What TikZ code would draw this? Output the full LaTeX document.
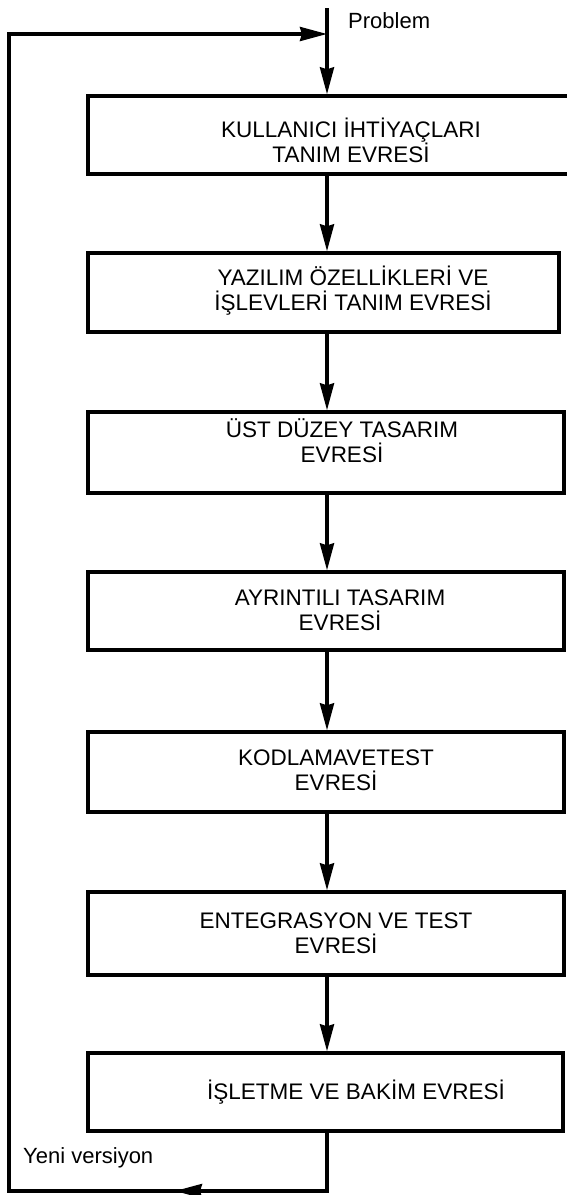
\documentclass[tikz,border=0pt]{standalone}
\usepackage{fontspec}
\setmainfont{Liberation Sans}
\usetikzlibrary{arrows.meta}
\begin{document}
\begin{tikzpicture}[x=1pt,y=-1pt,
  stage/.style={draw, line width=3.4pt, rectangle, inner sep=0pt},
  lbl/.style={font=\fontsize{22.5}{25}\selectfont, align=center, inner sep=0pt},
  side/.style={font=\fontsize{22}{25}\selectfont, inner sep=0pt, anchor=west},
  flow/.style={line width=3.4pt, line join=miter, -{Stealth[length=27pt,width=14pt,inset=2pt]}},
]
\useasboundingbox (0,0) rectangle (567,1195);
\coordinate (m) at (327,0);
\coordinate (ts) at (327,8);
\coordinate (tl) at (9,34);
\coordinate (jt) at (327,34);
\coordinate (bl) at (9,1191);
\coordinate (br) at (327,1191);
\coordinate (am) at (175,1191);

\node[stage, minimum width=482pt, minimum height=78pt] (b1) at (329,135) {};
\node[stage, minimum width=471pt, minimum height=79pt] (b2) at (323.5,292.5) {};
\node[stage, minimum width=476pt, minimum height=81pt] (b3) at (326,452.5) {};
\node[stage, minimum width=476pt, minimum height=78pt] (b4) at (326,611) {};
\node[stage, minimum width=476pt, minimum height=80pt] (b5) at (326,772) {};
\node[stage, minimum width=476pt, minimum height=83pt] (b6) at (326,933.5) {};
\node[stage, minimum width=475pt, minimum height=78pt] (b7) at (325.5,1092) {};

\node[lbl] (l1) at (351,140) {KULLANICI İHTİYAÇLARI\\TANIM EVRESİ};
\node[lbl] (l2) at (353,291) {YAZILIM ÖZELLİKLERİ VE\\İŞLEVLERİ TANIM EVRESİ};
\node[lbl] (l3) at (342,441) {ÜST DÜZEY TASARIM\\EVRESİ};
\node[lbl] (l4) at (340,610) {AYRINTILI TASARIM\\EVRESİ};
\node[lbl] (l5) at (336,770) {KODLAMAVETEST\\EVRESİ};
\node[lbl] (l6) at (336,933) {ENTEGRASYON VE TEST\\EVRESİ};
\node[lbl] (l7) at (356,1092) {İŞLETME VE BAKİM EVRESİ};

\node[side] (prob) at (348,21) {Problem};
\node[side] (yeni) at (23,1158) {Yeni versiyon};

\draw[flow] (ts) -- (b1.north -| m);
\draw[flow] (b1.south -| m) -- (b2.north -| m);
\draw[flow] (b2.south -| m) -- (b3.north -| m);
\draw[flow] (b3.south -| m) -- (b4.north -| m);
\draw[flow] (b4.south -| m) -- (b5.north -| m);
\draw[flow] (b5.south -| m) -- (b6.north -| m);
\draw[flow] (b6.south -| m) -- (b7.north -| m);
\draw[flow] (b7.south -| m) |- (bl) |- (jt);
\draw[flow] (br) -- (am);
\end{tikzpicture}
\end{document}
